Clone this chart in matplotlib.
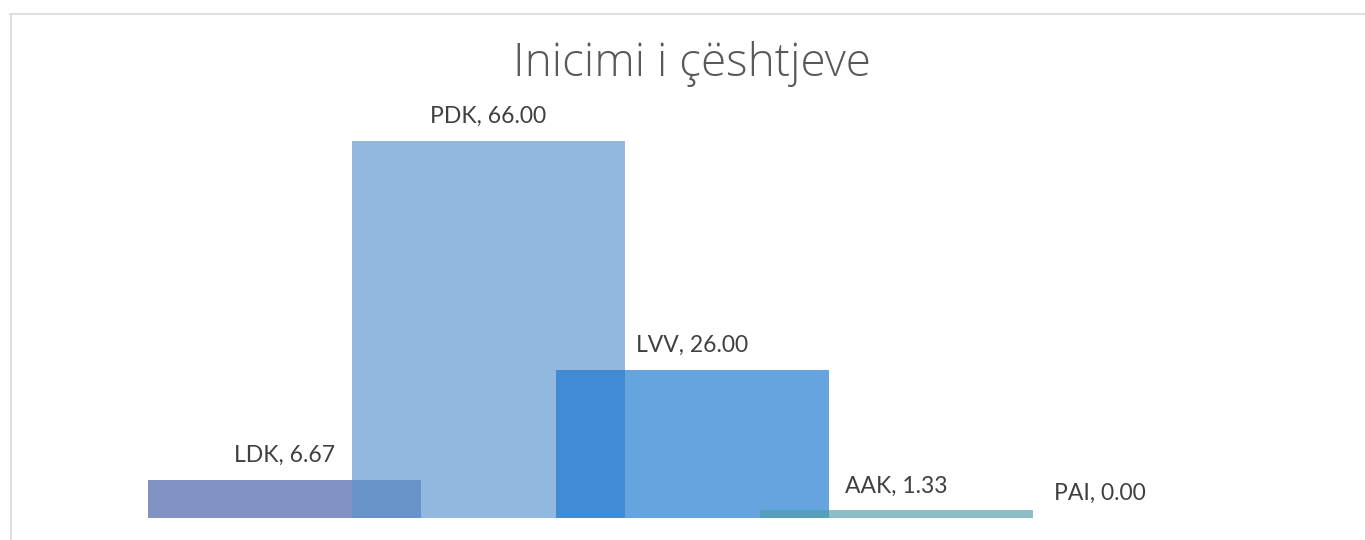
import matplotlib
matplotlib.use("Agg")
import matplotlib.pyplot as plt
from matplotlib.lines import Line2D

# --- data ---
parties = ["LDK", "PDK", "LVV", "AAK", "PAI"]
values = [6.67, 66.00, 26.00, 1.33, 0.00]
colors = ["#3E5AA4", "#5A93CE", "#1474CF", "#4D9BAA", "#4D9BAA"]

title = "Inicimi i çështjeve"

plt.rcParams['font.family'] = ['Lato', 'DejaVu Sans']

W, H, DPI = 1365, 540, 100
fig = plt.figure(figsize=(W / DPI, H / DPI), dpi=DPI)
ax = fig.add_axes([0, 0, 1, 1])
ax.axis('off')

# pixel mapping: bar centres 284 + 204*i, baseline at row 518, 5.71 px per unit
step, x0 = 204.0, 284.0
ppu, base = 5.71, 518.0
ax.set_xlim(-x0 / step, (W - x0) / step)
ax.set_ylim(-(H - base) / ppu, base / ppu)

bar_w = 273.0 / step
for i, (name, v, c) in enumerate(zip(parties, values, colors)):
    ax.bar(i, v, width=bar_w, color=c, alpha=0.65, linewidth=0, zorder=2 + i)
    ax.annotate(f"{name}, {v:.2f}", (i, v), xytext=(0, 10), textcoords='offset points',
                ha='center', va='bottom', fontsize=16.5,
                color='#404040', zorder=10)

fig.text(692 / W, 1 - 76 / H, title, ha='center', va='baseline', fontsize=33,
         family=['Open Sans', 'Lato'], fontweight='light', color='#595959')

# chart frame (top and left edges visible)
fig.add_artist(Line2D([10.5 / W, 10.5 / W], [0, 1 - 14 / H], color='#D9D9D9', lw=1.2,
                      transform=fig.transFigure))
fig.add_artist(Line2D([10 / W, 1], [1 - 14 / H, 1 - 14 / H], color='#D9D9D9', lw=1.2,
                      transform=fig.transFigure))

fig.savefig("out.png", dpi=DPI, facecolor='white')
